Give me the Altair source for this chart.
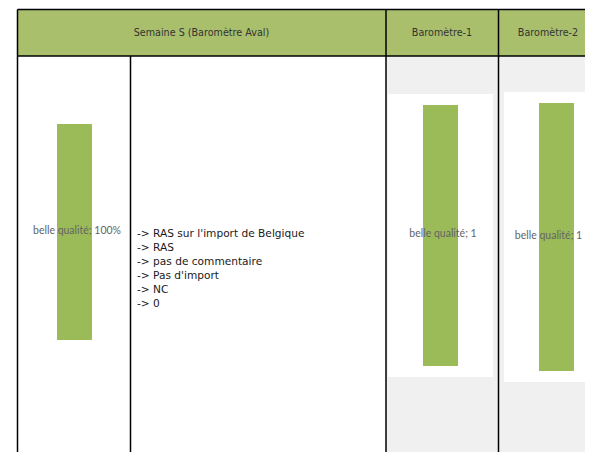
import altair as alt
import pandas as pd

# ---------------- data ----------------
panel_titles = ["Semaine S (Baromètre Aval)", "Baromètre-1", "Baromètre-2"]
bar_categories = ["belle qualité", "belle qualité", "belle qualité"]
bar_values = [1.0, 1.0, 1.0]
bar_value_labels = ["100%", "1", "1"]
comment_lines = [
    "-> RAS sur l'import de Belgique",
    "-> RAS",
    "-> pas de commentaire",
    "-> Pas d'import",
    "-> NC",
    "-> 0",
]

# ---------------- layout / style ----------------
W, H = 577, 444
OX, OY = 8, 8
GREEN_HEAD = "#A9BF6C"
GREEN_BAR = "#9BBB59"
GRAY_BG = "#F0F0F0"
LINE = "#000000"
FONT_HEAD = "DejaVu Sans"
FONT_LABEL = "Lato"

X_SCALE = alt.Scale(domain=[OX, OX + W], range=[0, W], nice=False, zero=False)
Y_SCALE = alt.Scale(domain=[OY, OY + H], range=[0, H], nice=False, zero=False)

def X(f):
    return alt.X(f, type="quantitative", scale=X_SCALE, axis=None)

def Y(f):
    return alt.Y(f, type="quantitative", scale=Y_SCALE, axis=None)

# table cell backgrounds
cells = pd.DataFrame([
    dict(x0=17.5, x1=620, y0=9.5, y1=56, fill=GREEN_HEAD),
    dict(x0=386, x1=498.5, y0=56, y1=480, fill=GRAY_BG),
    dict(x0=498.5, x1=620, y0=56, y1=480, fill=GRAY_BG),
    dict(x0=388, x1=493, y0=94, y1=377, fill="#FFFFFF"),
    dict(x0=504, x1=620, y0=92, y1=382, fill="#FFFFFF"),
])
cell_layer = alt.Chart(cells).mark_rect(clip=True).encode(
    x=X("x0"), x2="x1", y=Y("y0"), y2="y1",
    color=alt.Color("fill:N", scale=None, legend=None),
)

# borders
vlines = pd.DataFrame([
    dict(x=17.5, y0=9.5, y1=480),
    dict(x=130.5, y0=56, y1=480),
    dict(x=386, y0=9.5, y1=480),
    dict(x=498.5, y0=9.5, y1=480),
])
hlines = pd.DataFrame([
    dict(y=9.5, x0=17.5, x1=620),
    dict(y=56, x0=17.5, x1=620),
])
vline_layer = alt.Chart(vlines).mark_rule(color=LINE, strokeWidth=1.5, clip=True).encode(
    x=X("x"), y=Y("y0"), y2="y1")
hline_layer = alt.Chart(hlines).mark_rule(color=LINE, strokeWidth=1.5, clip=True).encode(
    y=Y("y"), x=X("x0"), x2="x1")

# header titles
head_x = [201.5, 442, 548]
heads = pd.DataFrame({"title": panel_titles, "x": head_x, "y": [33] * 3})
head_layer = alt.Chart(heads).mark_text(
    font=FONT_HEAD, fontSize=9.6, color="#333333", baseline="middle", align="center"
).encode(x=X("x"), y=Y("y"), text="title:N")

# embedded bar charts (one per panel, each with its own value scale)
bar_boxes = [  # x0, x1, pixel top, pixel bottom of the value axis
    (57, 92, 124, 340),
    (423, 458, 105, 366),
    (539, 574, 103, 371),
]
label_shift = [2.5, 2.5, -8]
bar_layers = []
for i in range(3):
    x0, x1, top, bottom = bar_boxes[i]
    d = pd.DataFrame({
        "cat": [bar_categories[i]],
        "value": [bar_values[i]],
        "lab": [bar_value_labels[i]],
        "x0": [x0], "x1": [x1],
    })
    vs = alt.Scale(domain=[0, 1], range=[bottom - OY, top - OY], nice=False, zero=True)
    base = alt.Chart(d).transform_calculate(
        base="0", mid="datum.value / 2",
        txt="datum.cat + '; ' + datum.lab",
        xc=f"(datum.x0 + datum.x1) / 2 + {label_shift[i]}",
    )
    bar = base.mark_rect(color=GREEN_BAR).encode(
        x=X("x0"), x2="x1",
        y=alt.Y("value:Q", scale=vs, axis=None), y2="base:Q",
    )
    txt = base.mark_text(
        font=FONT_LABEL, fontSize=10.5, color="#646464", align="center", baseline="middle", dy=-1.5
    ).encode(
        x=X("xc"),
        y=alt.Y("mid:Q", scale=vs, axis=None),
        text="txt:N",
    )
    bar_layers += [bar, txt]

# comments column
comments = pd.DataFrame({
    "line": list(range(len(comment_lines))),
    "text": comment_lines,
    "x": [137] * len(comment_lines),
})
comment_layer = alt.Chart(comments).mark_text(
    font=FONT_HEAD, fontSize=10.6, color="#1A1A1A", align="left", baseline="middle"
).encode(
    x=X("x"),
    y=alt.Y("line:O", scale=alt.Scale(type="point", range=[234 - OY, 303.5 - OY], padding=0), axis=None),
    text="text:N",
)

chart = alt.layer(
    cell_layer, *bar_layers, vline_layer, hline_layer, head_layer, comment_layer
).resolve_scale(y="independent").properties(
    width=W, height=H,
    autosize=alt.AutoSizeParams(type="none"),
    padding=0,
    background="#FFFFFF",
).configure_view(stroke=None)

chart.save("out.html", embed_options={"renderer": "svg", "actions": False})
